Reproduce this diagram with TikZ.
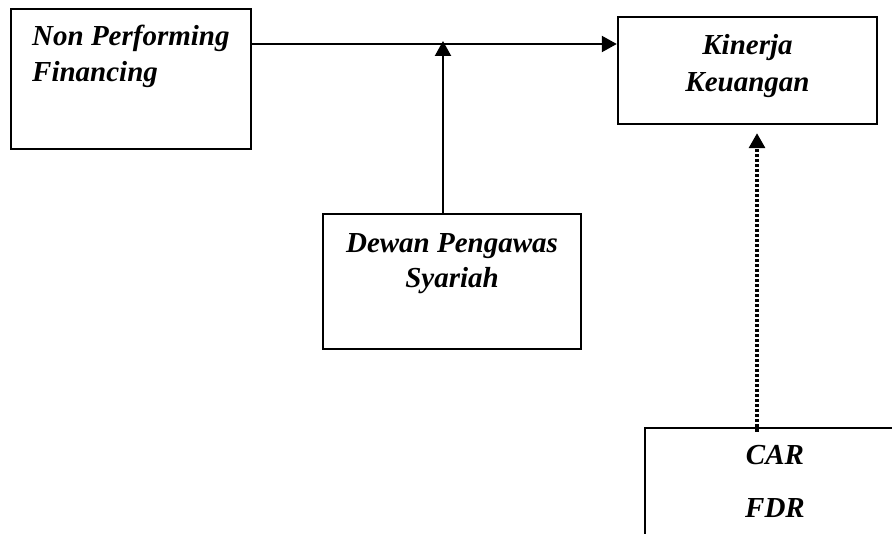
\documentclass[tikz,border=0pt]{standalone}
\usepackage{fontspec}
\setmainfont{Liberation Serif}
\usetikzlibrary{arrows.meta}

\tikzset{
  box/.style={draw, line width=2.4pt, inner sep=0pt},
  lbl/.style={font=\fontsize{29}{36}\selectfont\bfseries\itshape, inner sep=0pt},
  tip/.style={line width=2.2pt, -{Triangle[length=15pt,width=16pt]}},
  dots/.style={line width=3.2pt, dash pattern=on 3pt off 2pt},
}

\begin{document}
\begin{tikzpicture}[x=1pt,y=-1pt]
\clip (0,0) rectangle (892,534);
% boxes
\node[box, minimum width=240pt, minimum height=140pt] (npf) at (131,79) {};
\node[box, minimum width=259pt, minimum height=107pt] (kk) at (747.5,70.5) {};
\node[box, minimum width=258pt, minimum height=135pt] (dps) at (452,281.5) {};
\node[box, minimum width=260pt, minimum height=150pt] (ctrl) at (775,503) {};
% labels
\node[lbl, anchor=base west] (npf1) at (32,46) {Non Performing};
\node[lbl, anchor=base west] (npf2) at (32,82) {Financing};
\node[lbl, anchor=base] (kk1) at (747.5,55) {Kinerja};
\node[lbl, anchor=base] (kk2) at (747.5,92) {Keuangan};
\node[lbl, anchor=base] (dps1) at (452,253) {Dewan Pengawas};
\node[lbl, anchor=base] (dps2) at (452,288) {Syariah};
\node[lbl, anchor=base] (car) at (775,465) {CAR};
\node[lbl, anchor=base] (fdr) at (775,517) {FDR};
% connectors
\coordinate (h) at (443,44);
\coordinate (v) at (443,41);
\coordinate (d) at (757,0);
\draw[tip] (npf.east |- h) -- (kk.west |- h);
\draw[tip] (v |- dps.north) -- (v);
\draw[tip, dots] ([yshift=-5pt]d |- ctrl.north) -- ([yshift=-8pt]d |- kk.south);
\end{tikzpicture}
\end{document}
